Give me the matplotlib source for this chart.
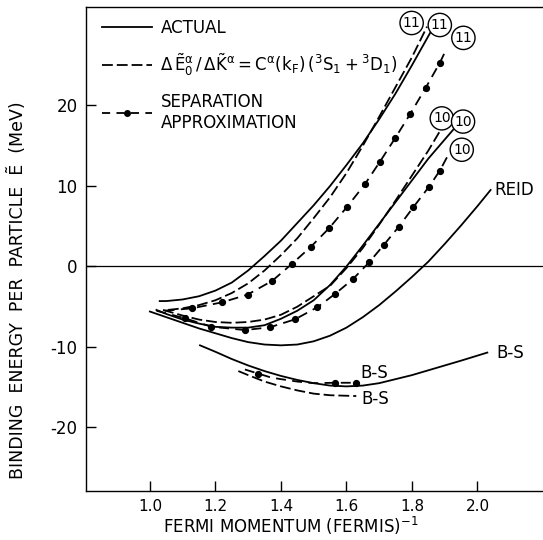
## imports

import numpy as np
import matplotlib
matplotlib.use('Agg')
import matplotlib.pyplot as plt
from matplotlib.lines import Line2D
from matplotlib.legend_handler import HandlerLine2D

plt.rcParams['font.family'] = ['DejaVu Sans']
plt.rcParams['mathtext.default'] = 'regular'

## data

# actual, (11)
k_act11 = [1.03, 1.05, 1.10, 1.15, 1.20, 1.25, 1.30, 1.35, 1.40, 1.45, 1.50, 1.55, 1.60, 1.65, 1.70, 1.75, 1.80, 1.858]
E_act11 = [-4.3, -4.3, -4.1, -3.7, -3.0, -2.0, -0.5, 1.3, 3.2, 5.4, 7.6, 10.0, 12.6, 15.3, 18.3, 21.5, 25.0, 29.2]

# delta E / delta K approximation, (11)
k_apx11 = [1.055, 1.10, 1.15, 1.20, 1.25, 1.30, 1.35, 1.40, 1.45, 1.50, 1.55, 1.60, 1.65, 1.70, 1.75, 1.80, 1.846]
E_apx11 = [-5.4, -5.2, -4.8, -4.2, -3.3, -2.1, -0.5, 1.4, 3.5, 6.0, 8.6, 11.6, 15.0, 18.6, 22.3, 26.0, 29.8]

# separation approximation, (11) -- first and last are line ends, the rest are the dots
k_sep11 = [1.045, 1.129, 1.221, 1.298, 1.373, 1.433, 1.491, 1.547, 1.601, 1.656, 1.702, 1.748, 1.794, 1.842, 1.885, 1.905]
E_sep11 = [-5.5, -5.2, -4.45, -3.5, -1.8, 0.3, 2.43, 4.75, 7.36, 10.2, 13.0, 15.9, 18.9, 22.2, 25.3, 27.0]

# actual, (10)
k_act10 = [1.02, 1.05, 1.10, 1.15, 1.20, 1.25, 1.30, 1.35, 1.40, 1.45, 1.50, 1.55, 1.60, 1.65, 1.70, 1.75, 1.80, 1.85, 1.926]
E_act10 = [-5.4, -5.9, -6.6, -7.1, -7.5, -7.6, -7.6, -7.3, -6.5, -5.5, -4.2, -2.3, 0.0, 2.6, 5.3, 8.0, 10.7, 13.4, 17.0]

# delta E / delta K approximation, (10)
k_apx10 = [1.04, 1.10, 1.15, 1.20, 1.25, 1.30, 1.35, 1.40, 1.45, 1.50, 1.55, 1.60, 1.65, 1.70, 1.75, 1.80, 1.85, 1.891]
E_apx10 = [-5.4, -6.1, -6.6, -6.9, -7.0, -6.9, -6.6, -6.0, -5.0, -3.7, -2.4, -0.2, 2.3, 5.2, 8.2, 11.3, 14.4, 17.2]

# separation approximation, (10)
k_sep10 = [1.02, 1.107, 1.188, 1.290, 1.366, 1.443, 1.511, 1.565, 1.619, 1.669, 1.714, 1.760, 1.804, 1.852, 1.885, 1.91]
E_sep10 = [-5.5, -6.44, -7.49, -7.9, -7.56, -6.57, -5.07, -3.42, -1.6, 0.5, 2.67, 4.95, 7.36, 9.9, 11.9, 13.8]

# Reid potential
k_reid = [1.00, 1.05, 1.10, 1.15, 1.20, 1.25, 1.30, 1.35, 1.40, 1.45, 1.50, 1.55, 1.60, 1.65, 1.70, 1.75, 1.80, 1.85, 1.90, 1.95, 2.00, 2.04]
E_reid = [-5.6, -6.3, -7.0, -7.7, -8.3, -8.9, -9.4, -9.7, -9.8, -9.7, -9.3, -8.6, -7.6, -6.3, -4.8, -3.1, -1.3, 0.6, 2.8, 5.1, 7.5, 9.5]

# B-S, actual
k_bs = [1.153, 1.20, 1.25, 1.30, 1.35, 1.40, 1.45, 1.50, 1.55, 1.60, 1.65, 1.70, 1.75, 1.80, 1.85, 1.90, 1.95, 2.03]
E_bs = [-9.8, -10.6, -11.5, -12.3, -13.0, -13.6, -14.1, -14.5, -14.8, -14.9, -14.8, -14.5, -14.0, -13.5, -12.9, -12.3, -11.7, -10.7]

# B-S, delta E / delta K approximation
k_bs_apx = [1.27, 1.30, 1.35, 1.40, 1.45, 1.50, 1.55, 1.63]
E_bs_apx = [-13.0, -13.5, -14.3, -14.9, -15.4, -15.8, -16.0, -16.1]

# B-S, separation approximation
k_bs_sep = [1.29, 1.33, 1.37, 1.40, 1.45, 1.50, 1.565, 1.629]
E_bs_sep = [-12.8, -13.3, -13.8, -14.0, -14.3, -14.5, -14.45, -14.45]
bs_sep_dots = [1, 6, 7]

# circled labels at the curve ends
circ_text = ['11', '11', '11', '10', '10', '10']
circ_k    = [1.799, 1.885, 1.957, 1.891, 1.956, 1.952]
circ_E    = [30.25, 30.0, 28.4, 18.4, 18.0, 14.5]

# plain labels
lab_text = ['REID', 'B-S', 'B-S', 'B-S']
lab_k    = [2.052, 2.058, 1.641, 1.647]
lab_E    = [9.5, -10.7, -13.25, -16.5]

xticks = [1.0, 1.2, 1.4, 1.6, 1.8, 2.0]
yticks = [-20, -10, 0, 10, 20]


# legend sample "--.--." : dots in the middle and at the end
class DotHandler(HandlerLine2D):
    def get_xdata(self, legend, xdescent, ydescent, width, height, fontsize):
        xdata = np.array([-xdescent, -xdescent + width])
        xmark = np.array([-xdescent + 0.5 * width, -xdescent + width])
        return xdata, xmark


## plotting

fig = plt.figure(figsize=(5.43, 5.40), dpi=100)
ax = fig.add_axes([0.1584, 0.0907, 0.8416, 0.8958])

lw = 1.3
dash = (6, 2.2)
dashdot = (5.5, 3.5)

ax.axhline(0, color='k', lw=0.9)

ax.plot(k_act11, E_act11, color='k', lw=lw)
ax.plot(k_apx11, E_apx11, color='k', lw=lw, dashes=dash)
ax.plot(k_sep11, E_sep11, color='k', lw=lw, dashes=dashdot,
        marker='o', ms=4.2, markevery=slice(1, -1))

ax.plot(k_act10, E_act10, color='k', lw=lw)
ax.plot(k_apx10, E_apx10, color='k', lw=lw, dashes=dash)
ax.plot(k_sep10, E_sep10, color='k', lw=lw, dashes=dashdot,
        marker='o', ms=4.2, markevery=slice(1, -1))

ax.plot(k_reid, E_reid, color='k', lw=lw)

ax.plot(k_bs, E_bs, color='k', lw=lw)
ax.plot(k_bs_apx, E_bs_apx, color='k', lw=lw, dashes=dash)
ax.plot(k_bs_sep, E_bs_sep, color='k', lw=lw, dashes=dashdot,
        marker='o', ms=4.2, markevery=bs_sep_dots)

for t, x, y in zip(circ_text, circ_k, circ_E):
    ax.text(x, y, t, ha='center', va='center', fontsize=10,
            bbox=dict(boxstyle='circle,pad=0.2', fc='white', ec='k', lw=1.0))

for t, x, y in zip(lab_text, lab_k, lab_E):
    ax.text(x, y, t, ha='left', va='center', fontsize=12)

# legend
h_act = Line2D([], [], color='k', lw=lw)
h_apx = Line2D([], [], color='k', lw=lw, dashes=dash)
h_sep = Line2D([], [], color='k', lw=lw, dashes=(4.5, 3.5), marker='o', ms=4)
labels = ['ACTUAL',
          r'$\Delta\,\tilde{E}_0^{\alpha}\,/\,\Delta\tilde{K}^{\alpha}=C^{\alpha}(k_F)\,(^3S_1+^3D_1)$',
          'SEPARATION\nAPPROXIMATION']
ax.legend([h_act, h_apx, h_sep], labels, loc='upper left',
          bbox_to_anchor=(0.017, 0.994), frameon=False, fontsize=12,
          handlelength=3.0, handletextpad=0.5, labelspacing=0.9,
          borderpad=0, handler_map={h_sep: DotHandler()})

ax.set_xlim(0.805, 2.2)
ax.set_ylim(-27.9, 32.2)
ax.set_xticks(xticks)
ax.set_xticklabels(['%.1f' % v for v in xticks], fontsize=11)
ax.set_yticks(yticks)
ax.set_yticklabels(['%d' % v for v in yticks], fontsize=12)
ax.tick_params(direction='in', length=7, width=1.0, pad=6)
ax.spines['right'].set_visible(False)
for s in ['left', 'bottom', 'top']:
    ax.spines[s].set_linewidth(1.0)

ax.set_xlabel(r'FERMI MOMENTUM (FERMIS)$^{-1}$', fontsize=12)
ax.xaxis.set_label_coords(0.449, -0.05)
ax.set_ylabel('BINDING  ENERGY  PER  PARTICLE  Ẽ  (MeV)', fontsize=12.5)
ax.yaxis.set_label_coords(-0.13, 0.416)

fig.savefig('out.png', dpi=100)
